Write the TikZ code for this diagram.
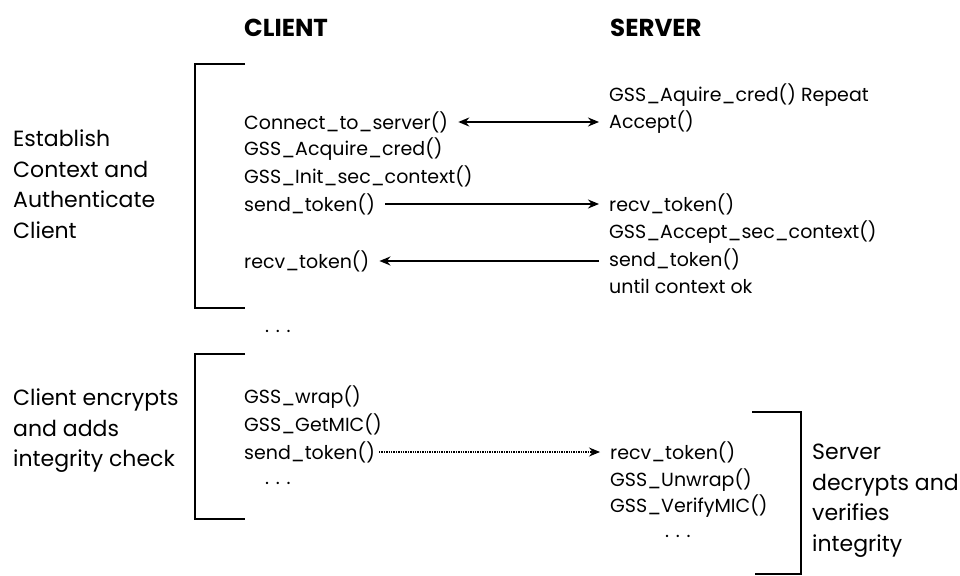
\documentclass[tikz,border=0pt]{standalone}
\usepackage{fontspec}
\setmainfont{Poppins}
\usetikzlibrary{arrows.meta}
\begin{document}
\begin{tikzpicture}[x=1pt,y=-1pt,
  txt/.style={font=\fontsize{19}{30}\selectfont, anchor=west, inner sep=0pt},
  head/.style={font=\fontsize{24.5}{28}\selectfont\bfseries, anchor=west, inner sep=0pt},
  side/.style={font=\fontsize{22}{30.5}\selectfont, anchor=north west, inner sep=0pt, align=left},
  brk/.style={line width=1.8pt},
  arr/.style={line width=1.8pt, -{Stealth[length=11pt,width=9pt]}},
  darr/.style={line width=1.8pt, {Stealth[length=11pt,width=9pt]}-{Stealth[length=11pt,width=9pt]}},
  dotarr/.style={line width=1.1pt, dash pattern=on 1.4pt off 1pt, -{Stealth[length=11pt,width=9pt]}},
  gap/.style={shorten <=10pt, shorten >=10pt}
]
\useasboundingbox (0,0) rectangle (960,575);

% column headings
\node[head] (hc) at (244,28) {CLIENT};
\node[head] (hs) at (610,28) {SERVER};

% first phase: context establishment
\node[side] (l1) at (13,130) {Establish\\Context and\\Authenticate\\Client};
\draw[brk] (245,64) -- (195,64) -- (195,308) -- (245,308);

\node[txt] (c1) at (244,122) {Connect\_to\_server()};
\node[txt] (c2) at (244,149) {GSS\_Acquire\_cred()};
\node[txt] (c3) at (244,176) {GSS\_Init\_sec\_context()};
\node[txt] (c4) at (244,204) {send\_token()};
\node[txt] (c5) at (244,261) {recv\_token()};

\node[txt] (s1) at (609,95) {GSS\_Aquire\_cred() Repeat};
\node[txt] (s2) at (609,122) {Accept()};
\node[txt] (s3) at (609,204) {recv\_token()};
\node[txt] (s4) at (609,232) {GSS\_Accept\_sec\_context()};
\node[txt] (s5) at (609,259) {send\_token()};
\node[txt] (s6) at (609,286) {until context ok};

\draw[darr, gap] (c1.east) -- (s2.west);
\draw[arr, gap] (c4.east) -- (s3.west);
\draw[arr, gap] (s5.west |- c5) -- (c5.east);

\node[txt] (d1) at (265,331) {. . .};

% second phase: protected message exchange
\node[side] (l2) at (13,389) {Client encrypts\\and adds\\integrity check};
\draw[brk] (245,354) -- (195,354) -- (195,519) -- (245,519);

\node[txt] (c6) at (244,397) {GSS\_wrap()};
\node[txt] (c7) at (244,424) {GSS\_GetMIC()};
\node[txt] (c8) at (244,452) {send\_token()};
\node[txt] (d2) at (265,483) {. . .};

\node[txt] (s7) at (610,452) {recv\_token()};
\node[txt] (s8) at (610,480) {GSS\_Unwrap()};
\node[txt] (s9) at (610,506) {GSS\_VerifyMIC()};
\node[txt] (d3) at (665,536) {. . .};

\draw[dotarr, shorten <=4pt, shorten >=10pt] (c8.east) -- (s7.west);

\draw[brk] (752,412) -- (801,412) -- (801,574) -- (755,574);
\node[side] (l3) at (812,444) {Server\\decrypts and\\verifies\\integrity};
\end{tikzpicture}
\end{document}
